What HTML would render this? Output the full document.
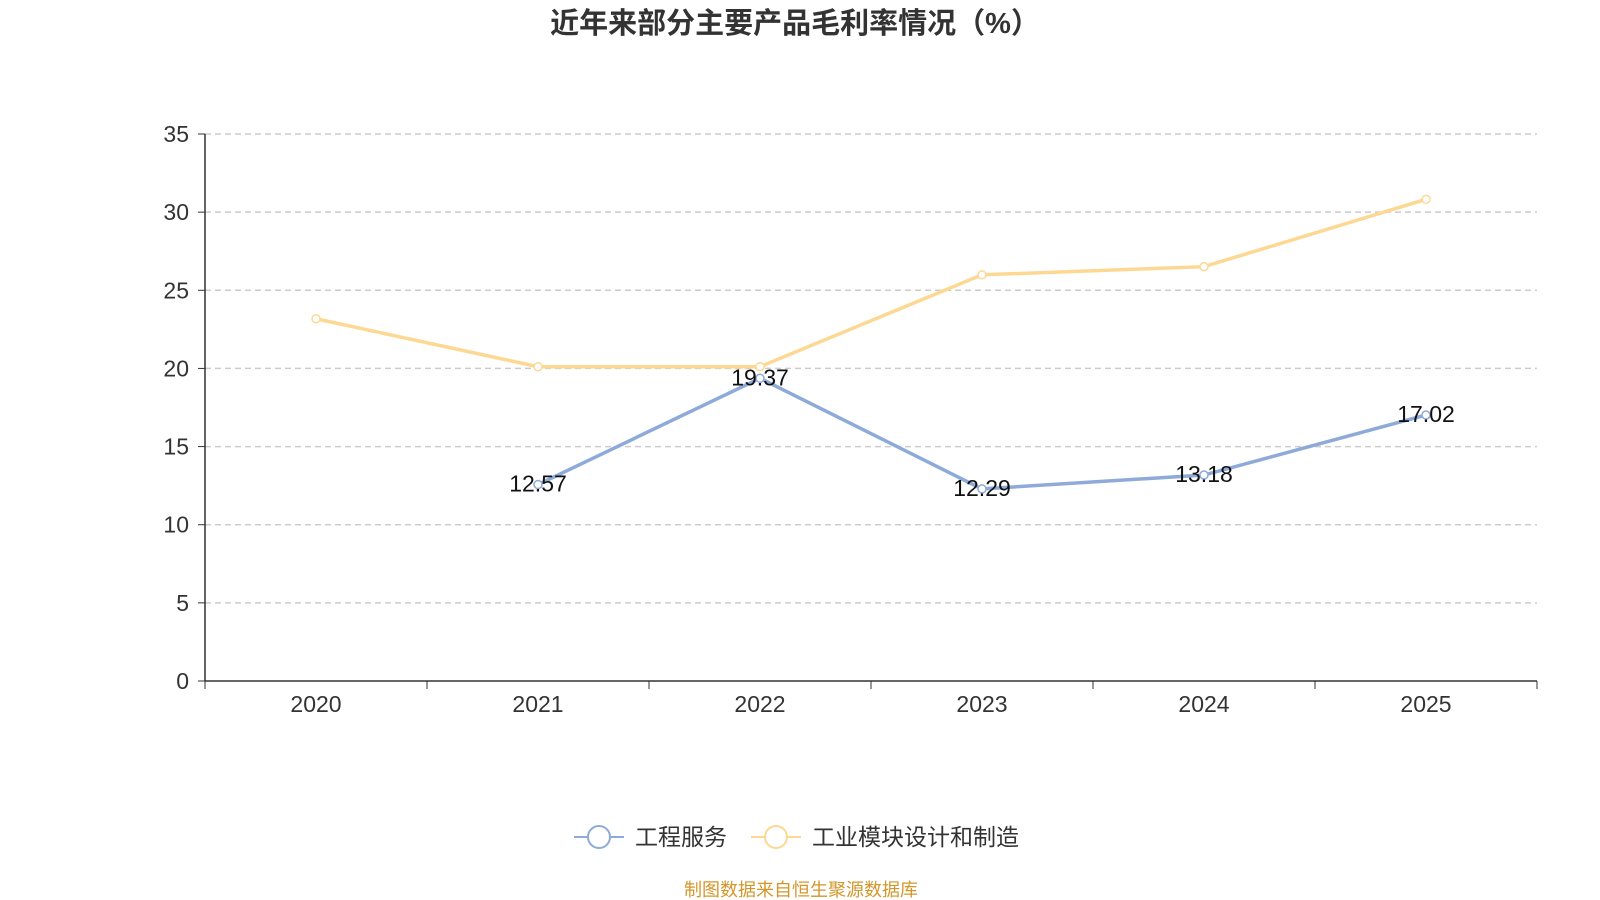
<!DOCTYPE html>
<html><head><meta charset="utf-8"><style>
body{margin:0;background:#fff;}
svg{display:block;font-family:"Liberation Sans","Noto Sans CJK SC",sans-serif;}
</style></head><body>
<svg id="c" width="1600" height="900">
<text x="795" y="33" text-anchor="middle" font-size="29" font-weight="bold" fill="#333">近年来部分主要产品毛利率情况（%）</text>
<g id="grid"></g>
<g id="axes"></g>
<g id="series"></g>
<g>
<g>
<line x1="574" y1="837" x2="624" y2="837" stroke="#8eaad9" stroke-width="2"/>
<circle cx="599" cy="837" r="11" fill="#fff" stroke="#8eaad9" stroke-width="2"/>
<text x="635" y="845" font-size="23" fill="#333">工程服务</text></g>
<g>
<line x1="751" y1="837" x2="801" y2="837" stroke="#fdd892" stroke-width="2"/>
<circle cx="776" cy="837" r="11" fill="#fff" stroke="#fdd892" stroke-width="2"/>
<text x="812" y="845" font-size="23" fill="#333">工业模块设计和制造</text></g>
</g>
<text x="801" y="896" text-anchor="middle" font-size="18" fill="#d4962a">制图数据来自恒生聚源数据库</text>
</svg>
<script>
const categories=["2020","2021","2022","2023","2024","2025"];
const engineering=[null,12.57,19.37,12.29,13.18,17.02];
const industrial=[23.18,20.11,20.11,25.99,26.51,30.82];
const yTicks=[0,5,10,15,20,25,30,35];
const NS="http://www.w3.org/2000/svg";
const X0=205,X1=1537,Y0=681,Y1=134,YMAX=35;
const bw=(X1-X0)/categories.length;
const xs=i=>X0+bw*(i+0.5);
const ys=v=>Y0-(v/YMAX)*(Y0-Y1);
function mk(t,a,p){const e=document.createElementNS(NS,t);for(const k in a)e.setAttribute(k,a[k]);p.appendChild(e);return e;}
const grid=document.getElementById('grid'),axes=document.getElementById('axes'),ser=document.getElementById('series');
yTicks.forEach(v=>{
 if(v>0){const l=mk('line',{x1:X0,x2:X1,y1:ys(v),y2:ys(v),stroke:'#ccc','stroke-dasharray':'6,4','stroke-width':1.5},grid);
 
 }
 mk('line',{x1:X0-7,x2:X0,y1:ys(v),y2:ys(v),stroke:'#333'},axes);
 const t=mk('text',{x:X0-16,y:ys(v)+8,'text-anchor':'end','font-size':23,fill:'#333'},axes);t.textContent=v;
 
 
});
mk('line',{x1:X0,x2:X0,y1:Y1,y2:Y0,stroke:'#333','stroke-width':1.5},axes);
mk('line',{x1:X0,x2:X1,y1:Y0,y2:Y0,stroke:'#333','stroke-width':1.5},axes);
for(let i=0;i<=categories.length;i++)mk('line',{x1:X0+bw*i,x2:X0+bw*i,y1:Y0,y2:Y0+8,stroke:'#333'},axes);
categories.forEach((c,i)=>{const t=mk('text',{x:xs(i),y:Y0+31,'text-anchor':'middle','font-size':23,fill:'#333'},axes);t.textContent=c;
 
 });
function draw(vals,color,name,labels){
 const pts=vals.map((v,i)=>v==null?null:[xs(i),ys(v)]).filter(p=>p);
 const pl=mk('polyline',{points:pts.map(p=>p.join(',')).join(' '),fill:'none',stroke:color,'stroke-width':3.5},ser);
 
 
 vals.forEach((v,i)=>{if(v==null)return;
  const c=mk('circle',{cx:xs(i),cy:ys(v),r:4,fill:'#fff',stroke:color,'stroke-width':1.5},ser);
  
  
  if(labels){const t=mk('text',{x:xs(i),y:ys(v)+7,'text-anchor':'middle','font-size':23,fill:'#111'},ser);t.textContent=v.toFixed(2);
   
   }
 });
}
draw(industrial,'#fdd892','industrial',false);
draw(engineering,'#8eaad9','engineering',true);
</script>
</body></html>
